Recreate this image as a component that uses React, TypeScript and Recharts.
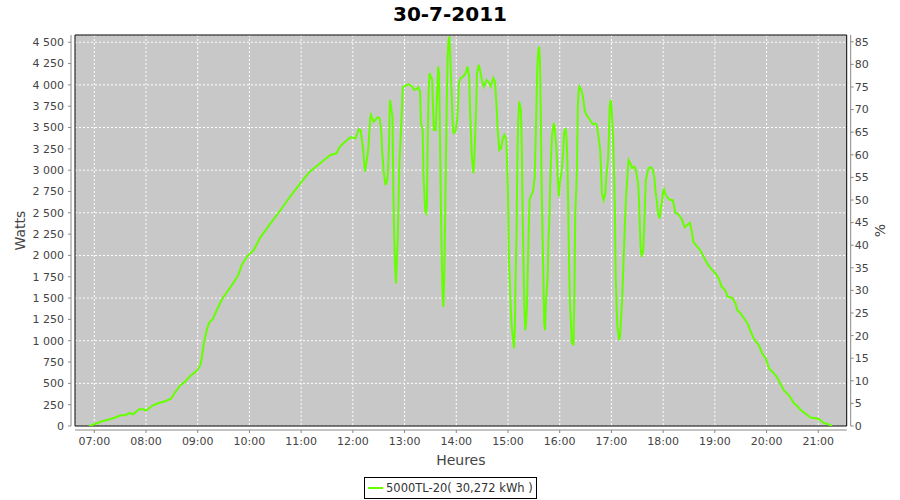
import React from 'react';
import { LineChart, Line, XAxis, YAxis, CartesianGrid, ReferenceArea, Legend } from 'recharts';

const chartTitle = '30-7-2011';
const seriesName = '5000TL-20( 30,272 kWh )';
const xAxisTitle = 'Heures';
const leftAxisTitle = 'Watts';
const rightAxisTitle = '%';

const hourTicks = ['07:00', '08:00', '09:00', '10:00', '11:00', '12:00', '13:00', '14:00', '15:00', '16:00', '17:00', '18:00', '19:00', '20:00', '21:00'];
const wattTicks = [0, 250, 500, 750, 1000, 1250, 1500, 1750, 2000, 2250, 2500, 2750, 3000, 3250, 3500, 3750, 4000, 4250, 4500];
const pctTicks = [0, 5, 10, 15, 20, 25, 30, 35, 40, 45, 50, 55, 60, 65, 70, 75, 80, 85];

const times = [
  '06:54', '07:00', '07:10', '07:18', '07:26', '07:30', '07:36', '07:41', '07:45', '07:52', '07:57', '08:00',
  '08:08', '08:14', '08:22', '08:29', '08:34', '08:40', '08:45', '08:51', '08:59', '09:03', '09:05', '09:07',
  '09:10', '09:13', '09:18', '09:22', '09:28', '09:36', '09:41', '09:47', '09:51', '09:57', '10:01', '10:05',
  '10:12', '10:24', '10:36', '10:47', '10:59', '11:10', '11:22', '11:34', '11:41', '11:45', '11:49', '11:57',
  '12:03', '12:07', '12:09', '12:12', '12:14', '12:16', '12:18', '12:20', '12:21', '12:24', '12:29', '12:31',
  '12:33', '12:34', '12:36', '12:38', '12:40', '12:41', '12:42', '12:43', '12:44', '12:46', '12:47', '12:48',
  '12:49', '12:50', '12:52', '12:53', '12:54', '12:56', '12:57', '12:58', '13:01', '13:05', '13:09', '13:11',
  '13:14', '13:16', '13:18', '13:19', '13:21', '13:22', '13:24', '13:25', '13:26', '13:27', '13:28', '13:29',
  '13:32', '13:33', '13:34', '13:36', '13:38', '13:39', '13:40', '13:41', '13:42', '13:43', '13:44', '13:45',
  '13:46', '13:47', '13:48', '13:49', '13:50', '13:51', '13:52', '13:53', '13:54', '13:56', '13:57', '13:59',
  '14:01', '14:02', '14:03', '14:05', '14:08', '14:11', '14:13', '14:15', '14:16', '14:18', '14:20', '14:21',
  '14:23', '14:24', '14:26', '14:28', '14:30', '14:32', '14:35', '14:38', '14:40', '14:43', '14:45', '14:47',
  '14:48', '14:50', '14:52', '14:54', '14:56', '14:58', '14:59', '15:00', '15:01', '15:03', '15:04', '15:06',
  '15:07', '15:08', '15:09', '15:10', '15:11', '15:12', '15:13', '15:15', '15:16', '15:17', '15:18', '15:19',
  '15:20', '15:21', '15:22', '15:23', '15:24', '15:25', '15:27', '15:29', '15:31', '15:32', '15:33', '15:34',
  '15:35', '15:36', '15:37', '15:38', '15:39', '15:40', '15:41', '15:42', '15:43', '15:44', '15:46', '15:47',
  '15:48', '15:49', '15:50', '15:51', '15:53', '15:54', '15:56', '15:57', '15:58', '15:59', '16:00', '16:02',
  '16:03', '16:04', '16:05', '16:07', '16:08', '16:09', '16:10', '16:11', '16:12', '16:13', '16:14', '16:16',
  '16:17', '16:18', '16:20', '16:21', '16:22', '16:23', '16:25', '16:27', '16:29', '16:31', '16:34', '16:37',
  '16:39', '16:41', '16:43', '16:45', '16:47', '16:48', '16:49', '16:51', '16:53', '16:54', '16:56', '16:57',
  '16:58', '16:59', '17:00', '17:02', '17:03', '17:04', '17:05', '17:06', '17:07', '17:09', '17:10', '17:12',
  '17:13', '17:14', '17:15', '17:16', '17:17', '17:19', '17:20', '17:22', '17:24', '17:26', '17:28', '17:29',
  '17:31', '17:32', '17:33', '17:34', '17:35', '17:37', '17:38', '17:39', '17:40', '17:42', '17:43', '17:46',
  '17:48', '17:50', '17:51', '17:53', '17:54', '17:56', '17:57', '17:59', '18:00', '18:01', '18:03', '18:06',
  '18:08', '18:11', '18:13', '18:14', '18:18', '18:22', '18:25', '18:28', '18:31', '18:33', '18:35', '18:38',
  '18:43', '18:47', '18:51', '18:54', '18:57', '19:01', '19:05', '19:08', '19:12', '19:15', '19:20', '19:24',
  '19:26', '19:30', '19:34', '19:38', '19:41', '19:45', '19:51', '19:55', '19:59', '20:03', '20:07', '20:12',
  '20:16', '20:20', '20:26', '20:32', '20:36', '20:39', '20:45', '20:51', '20:59', '21:03', '21:06', '21:10',
  '21:16',
];

const watts = [
  0, 20, 59, 79, 106, 126, 126, 153, 137, 196, 196, 180,
  243, 266, 290, 321, 399, 478, 517, 583, 646, 713, 818, 967,
  1104, 1209, 1261, 1358, 1484, 1601, 1672, 1769, 1887, 1984, 2024, 2063,
  2200, 2370, 2530, 2688, 2846, 2982, 3080, 3178, 3198, 3276, 3315, 3386,
  3374, 3480, 3471, 3237, 2982, 3099, 3257, 3589, 3648, 3569, 3621, 3609,
  3452, 3217, 2963, 2826, 2885, 3041, 3315, 3824, 3765, 3628, 2767, 2180,
  1867, 1672, 2180, 2611, 3080, 3510, 3745, 3973, 3988, 4008, 3980, 3941,
  3949, 3973, 3921, 3550, 3471, 2923, 2512, 2494, 2611, 3471, 3961, 4137,
  4058, 3745, 3471, 3471, 3941, 4215, 4137, 3471, 2688, 2063, 1593, 1397,
  1749, 2376, 3080, 3824, 4332, 4528, 4567, 4332, 4058, 3510, 3433, 3452,
  3589, 3745, 4020, 4078, 4097, 4137, 4215, 4097, 3706, 3158, 2963, 3158,
  3706, 4137, 4235, 4156, 4038, 3980, 4058, 4027, 3980, 4078, 4038, 3706,
  3471, 3237, 3257, 3374, 3413, 3354, 3080, 2728, 1984, 1437, 1202, 1006,
  909, 1162, 1828, 2298, 3237, 3589, 3804, 3706, 3276, 2532, 1907, 1397,
  1124, 1202, 1397, 1867, 2259, 2650, 2708, 2747, 2923, 3315, 3745, 4200,
  4380, 4450, 4300, 3700, 2846, 2298, 1749, 1202, 1124, 1437, 1749, 2200,
  2415, 2846, 3158, 3400, 3550, 3510, 3276, 3080, 2846, 2688, 2846, 2963,
  3080, 3198, 3433, 3491, 3354, 3080, 2494, 1800, 1400, 1241, 986, 947,
  1500, 2454, 3002, 3745, 3941, 3980, 3941, 3863, 3706, 3648, 3609, 3557,
  3538, 3550, 3530, 3393, 3237, 3002, 2728, 2650, 2728, 2923, 3119, 3354,
  3745, 3824, 3745, 3393, 3002, 2571, 1749, 1397, 1162, 1006, 1045, 1397,
  1632, 1907, 2180, 2454, 2688, 3002, 3119, 3080, 3022, 3041, 3022, 2963,
  2846, 2650, 2336, 2083, 1984, 2063, 2336, 2611, 2885, 2982, 3022, 3034,
  3002, 2905, 2767, 2611, 2494, 2435, 2532, 2650, 2747, 2775, 2708, 2670,
  2650, 2650, 2571, 2501, 2480, 2415, 2329, 2356, 2383, 2298, 2160, 2120,
  2063, 1984, 1907, 1867, 1828, 1789, 1719, 1632, 1593, 1515, 1503, 1437,
  1358, 1320, 1261, 1202, 1124, 1026, 947, 850, 791, 674, 634, 575,
  498, 419, 360, 263, 231, 192, 146, 99, 87, 67, 35, 28,
  0,
];

const toMin = (s: string) => {
  const [h, m] = s.split(':').map(Number);
  return h * 60 + m;
};
const fmtTime = (v: number) => {
  const h = Math.floor(v / 60);
  const m = Math.round(v - h * 60);
  return `${String(h).padStart(2, '0')}:${String(m).padStart(2, '0')}`;
};
const fmtWatts = (v: number) =>
  v >= 1000 ? `${Math.floor(v / 1000)} ${String(v % 1000).padStart(3, '0')}` : String(v);

const data = times.map((t, i) => ({ t: toMin(t), w: watts[i] }));

const X_DOMAIN: [number, number] = [397.6, 1293];
const W_MAX = 4585;
const P_MAX = 86.5;

const LINE_COLOR = '#66FF00';
const FONT = "'DejaVu Sans', Verdana, sans-serif";

const LegendBox = () => (
  <div
    style={{
      display: 'flex',
      alignItems: 'center',
      boxSizing: 'border-box',
      width: 'fit-content',
      border: '1px solid #000',
      height: 22,
      padding: '0 3px 0 3px',
      background: '#fff',
      fontFamily: FONT,
      fontSize: 11.5,
      lineHeight: '14px',
      color: '#333',
      whiteSpace: 'nowrap',
    }}
  >
    <span style={{ display: 'block', width: 15, height: 2, background: LINE_COLOR, marginRight: 3 }} />
    <span style={{ display: 'block' }}>{seriesName}</span>
  </div>
);

export default function App() {
  return (
    <div style={{ position: 'absolute', left: 0, top: 0, width: 900, height: 500, background: '#fff', fontFamily: FONT }}>
      <div
        style={{
          position: 'absolute',
          left: 0,
          top: 0,
          width: 900,
          textAlign: 'center',
          fontWeight: 'bold',
          fontSize: 20,
          lineHeight: '28px',
          color: '#000',
          fontFamily: FONT,
        }}
      >
        {chartTitle}
      </div>
      <LineChart width={900} height={500} data={data} margin={{ top: 35, right: 0, bottom: 0, left: 0 }}>
        <CartesianGrid fill="#C8C8C8" stroke="#FFFFFF" strokeDasharray="2 2" strokeWidth={1} />
        <XAxis
          type="number"
          dataKey="t"
          domain={X_DOMAIN}
          allowDataOverflow
          ticks={hourTicks.map(toMin)}
          tickFormatter={fmtTime}
          height={74}
          tickSize={3}
          tickMargin={8}
          axisLine={{ stroke: '#888', transform: 'translate(0,4)' }}
          tickLine={{ stroke: '#888', transform: 'translate(0,4)' }}
          tick={{ fill: '#444', fontSize: 11, fontFamily: FONT }}
          label={{ value: xAxisTitle, position: 'insideBottom', offset: 35, fill: '#444', fontSize: 14, fontFamily: FONT }}
        />
        <YAxis
          yAxisId={0}
          type="number"
          domain={[0, W_MAX]}
          allowDataOverflow
          ticks={wattTicks}
          tickFormatter={fmtWatts}
          width={75}
          tickSize={3}
          tickMargin={8}
          axisLine={{ stroke: '#888', transform: 'translate(-4,0)' }}
          tickLine={{ stroke: '#888', transform: 'translate(-4,0)' }}
          tick={{ fill: '#444', fontSize: 11, fontFamily: FONT }}
          label={{
            value: leftAxisTitle,
            angle: -90,
            position: 'insideLeft',
            offset: 20,
            fill: '#444',
            fontSize: 14,
            fontFamily: FONT,
            style: { textAnchor: 'middle' },
          }}
        />
        <YAxis
          yAxisId="pct"
          orientation="right"
          type="number"
          domain={[0, P_MAX]}
          allowDataOverflow
          ticks={pctTicks}
          width={53.3}
          tickSize={3}
          tickMargin={5}
          axisLine={{ stroke: '#888', transform: 'translate(4,0)' }}
          tickLine={{ stroke: '#888', transform: 'translate(4,0)' }}
          tick={{ fill: '#444', fontSize: 11, fontFamily: FONT }}
          label={{
            value: rightAxisTitle,
            angle: -90,
            position: 'insideRight',
            offset: 20,
            fill: '#444',
            fontSize: 14,
            fontFamily: FONT,
            style: { textAnchor: 'middle' },
          }}
        />
        <ReferenceArea
          yAxisId={0}
          x1={X_DOMAIN[0]}
          x2={X_DOMAIN[1]}
          y1={0}
          y2={W_MAX}
          fill="none"
          fillOpacity={0}
          stroke="#000"
          strokeWidth={1}
          ifOverflow="visible"
        />
        <Line
          yAxisId={0}
          type="linear"
          dataKey="w"
          name={seriesName}
          stroke={LINE_COLOR}
          strokeWidth={2}
          dot={false}
          activeDot={false}
          isAnimationActive={false}
        />
        <Legend
          verticalAlign="middle"
          align="center"
          layout="horizontal"
          content={() => <LegendBox />}
          wrapperStyle={{ left: 364, top: 477, width: 'auto', height: 'auto', lineHeight: 0 }}
        />
      </LineChart>
    </div>
  );
}
